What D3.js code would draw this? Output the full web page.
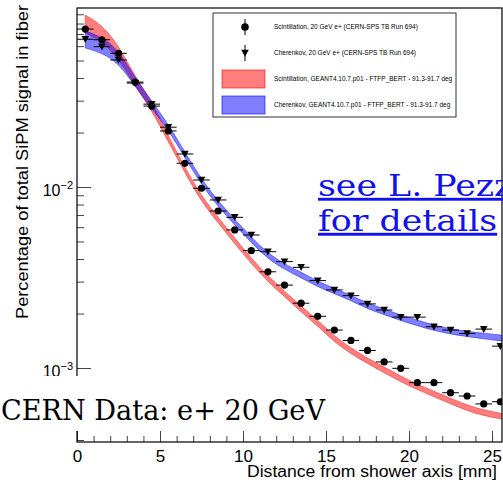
<!DOCTYPE html>
<html>
<head>
<meta charset="utf-8">
<script src="https://cdn.jsdelivr.net/npm/d3@7"></script>
<style>
  body { margin: 0; background: #fff; }
  svg { display: block; font-family: "Liberation Sans", Arial, sans-serif; }
</style>
</head>
<body>
<div id="chart"></div>
<script>
// Lateral profile, bin centres in mm
var binCentres = [0.5, 1.5, 2.5, 3.5, 4.5, 5.5, 6.5, 7.5, 8.5, 9.5, 10.5, 11.5, 12.5,
  13.5, 14.5, 15.5, 16.5, 17.5, 18.5, 19.5, 20.5, 21.5, 22.5, 23.5, 24.5, 25.5];

// CERN-SPS test beam data
var scintData = [0.0746, 0.0651, 0.0548, 0.0380, 0.0280, 0.0204, 0.01352, 0.00984, 0.00737,
  0.00579, 0.00445, 0.00340, 0.00287, 0.00228, 0.00193, 0.00162, 0.00142, 0.00125, 0.00108,
  0.000996, 0.000830, 0.000830, 0.000730, 0.000700, 0.000633, 0.000651];
var cherData = [0.0655, 0.0596, 0.0503, 0.0375, 0.0287, 0.0214, 0.01522, 0.01093, 0.00848,
  0.00680, 0.00543, 0.00439, 0.00387, 0.00360, 0.00304, 0.00270, 0.00251, 0.00226, 0.00209,
  0.00191, 0.00191, 0.00169, 0.00162, 0.00155, 0.00164, 0.00132];

// GEANT4 simulation bands
var simBins = [0.5, 1.5, 2.5, 3.5, 4.5, 5.5, 6.5, 7.5, 8.5, 9.5, 10.5, 11.5, 12.5,
  13.5, 14.5, 15.5, 16.5, 17.5, 18.5, 19.5, 20.5, 21.5, 22.5, 23.5, 24.5, 25.5, 26.5];
var scintSimHigh = [0.0892, 0.0785, 0.0609, 0.0405, 0.0299, 0.01909, 0.01285, 0.00889, 0.00681,
  0.00521, 0.00404, 0.00322, 0.00266, 0.00219, 0.00184, 0.00150, 0.00129, 0.00113, 0.001014,
  0.000901, 0.000813, 0.000744, 0.000681, 0.000623, 0.000585, 0.000562, 0.000541];
var scintSimLow = [0.0709, 0.0641, 0.0516, 0.0361, 0.0266, 0.01778, 0.01199, 0.00829, 0.00635,
  0.00486, 0.00377, 0.00300, 0.00248, 0.00204, 0.00171, 0.00139, 0.00120, 0.001057, 0.000942,
  0.000839, 0.000758, 0.000694, 0.000635, 0.000580, 0.000545, 0.000524, 0.000505];
var cherSimHigh = [0.0728, 0.0674, 0.0571, 0.0400, 0.0299, 0.02224, 0.01555, 0.01103, 0.00835,
  0.00663, 0.00528, 0.00431, 0.00374, 0.00339, 0.00301, 0.00276, 0.00252, 0.00228, 0.00212,
  0.00196, 0.00184, 0.00172, 0.00165, 0.00159, 0.00156, 0.00152, 0.00149];
var cherSimLow = [0.0586, 0.0550, 0.0484, 0.0361, 0.0270, 0.02073, 0.01451, 0.01030, 0.00778,
  0.00619, 0.00492, 0.00401, 0.00350, 0.00315, 0.00281, 0.00257, 0.00236, 0.00212, 0.00197,
  0.00183, 0.00171, 0.00161, 0.00154, 0.00149, 0.00145, 0.00141, 0.00138];

var xTicks = [0, 5, 10, 15, 20, 25];
var yTicks = [1e-3, 1e-2];
var yTickExponents = ["\u22123", "\u22122"];

var legendLabels = [
  "Scintillation, 20 GeV e+ (CERN-SPS TB Run 694)",
  "Cherenkov, 20 GeV e+ (CERN-SPS TB Run 694)",
  "Scintillation, GEANT4.10.7.p01 - FTFP_BERT - 91.3-91.7 deg",
  "Cherenkov, GEANT4.10.7.p01 - FTFP_BERT - 91.3-91.7 deg"
];

var w = 503;
var h = 480;
// plot frame (avoid the name "top", it is window.top)
var padL = 77, padR = 502, padT = 8, padB = 442;

var svg = d3.select("#chart").append("svg").attr("width", w).attr("height", h);

var x = d3.scaleLinear().domain([0, 25.6]).range([padL, padR]);
var y = d3.scaleLog().domain([3.9e-4, 0.0975]).range([padB, padT]);

svg.append("clipPath").attr("id", "plotClip")
  .append("rect").attr("x", padL).attr("y", padT)
  .attr("width", padR - padL).attr("height", padB - padT);

var plot = svg.append("g").attr("clip-path", "url(#plotClip)");

// simulation bands
function band(lowArr, highArr) {
  return d3.area()
    .x(function (d, i) { return x(simBins[i]); })
    .y0(function (d, i) { return y(lowArr[i]); })
    .y1(function (d, i) { return y(highArr[i]); })
    .curve(d3.curveBasis)(simBins);
}

plot.append("path")
  .attr("d", band(scintSimLow, scintSimHigh))
  .attr("fill", "rgba(255,0,0,0.5)")
  .attr("stroke", "rgba(255,0,0,0.45)")
  .attr("stroke-width", 1);

plot.append("path")
  .attr("d", band(cherSimLow, cherSimHigh))
  .attr("fill", "rgba(0,0,255,0.5)")
  .attr("stroke", "rgba(0,0,255,0.45)")
  .attr("stroke-width", 1);

// data points with horizontal bin-width error bars
function drawPoints(values, shape) {
  var g = plot.append("g");
  g.selectAll("line")
    .data(values)
    .enter()
    .append("line")
    .attr("x1", function (d, i) { return x(binCentres[i] - 0.5); })
    .attr("x2", function (d, i) { return x(binCentres[i] + 0.5); })
    .attr("y1", function (d) { return y(d); })
    .attr("y2", function (d) { return y(d); })
    .attr("stroke", "#000")
    .attr("stroke-width", 1);

  if (shape === "circle") {
    g.selectAll("circle")
      .data(values)
      .enter()
      .append("circle")
      .attr("cx", function (d, i) { return x(binCentres[i]); })
      .attr("cy", function (d) { return y(d); })
      .attr("r", 3.6)
      .attr("fill", "#000");
  } else {
    g.selectAll("path")
      .data(values)
      .enter()
      .append("path")
      .attr("transform", function (d, i) {
        return "translate(" + x(binCentres[i]) + "," + y(d) + ")";
      })
      .attr("d", "M-3.8,-3.2 L3.8,-3.2 L0,3.8 Z")
      .attr("fill", "#000");
  }
}

drawPoints(scintData, "circle");
drawPoints(cherData, "triangle");

// axes with inward ticks
svg.append("g")
  .attr("transform", "translate(0," + padB + ")")
  .call(d3.axisBottom(x).ticks(25).tickSize(-6).tickFormat(""))
  .call(function (g) { g.select(".domain").remove(); });

var xAxis = svg.append("g")
  .attr("transform", "translate(0," + padB + ")")
  .call(d3.axisBottom(x).tickValues(xTicks).tickSize(-11));
xAxis.select(".domain").remove();
xAxis.selectAll("text")
  .attr("font-family", "Liberation Sans, Arial, sans-serif")
  .attr("font-size", 17)
  .attr("fill", "#000")
  .attr("y", 20)
  .attr("dy", null);

svg.append("g")
  .attr("transform", "translate(" + padL + ",0)")
  .call(d3.axisLeft(y).tickValues(y.ticks()).tickSize(-7).tickFormat(""))
  .call(function (g) { g.select(".domain").remove(); });

var yAxis = svg.append("g")
  .attr("transform", "translate(" + padL + ",0)")
  .call(d3.axisLeft(y).tickValues(yTicks).tickSize(-14).tickFormat(""));
yAxis.select(".domain").remove();
yAxis.selectAll(".tick")
  .append("text")
  .attr("x", -4)
  .attr("y", 9)
  .attr("text-anchor", "end")
  .attr("fill", "#000")
  .attr("font-size", 16)
  .each(function (d, i) {
    var t = d3.select(this);
    t.append("tspan").text("10");
    t.append("tspan").attr("font-size", 11).attr("dy", -7).text(yTickExponents[i]);
  });

svg.selectAll(".tick line").attr("stroke", "#444");

// frame
svg.append("rect")
  .attr("x", padL).attr("y", padT)
  .attr("width", padR - padL).attr("height", padB - padT)
  .attr("fill", "none")
  .attr("stroke", "#000")
  .attr("stroke-width", 1.2);

// axis titles
svg.append("text")
  .attr("x", 497)
  .attr("y", 477)
  .attr("text-anchor", "end")
  .attr("font-size", 16)
  .attr("fill", "#000")
  .attr("textLength", 250)
  .attr("lengthAdjust", "spacingAndGlyphs")
  .text("Distance from shower axis [mm]");

svg.append("text")
  .attr("transform", "translate(28,5) rotate(-90)")
  .attr("text-anchor", "end")
  .attr("font-size", 16)
  .attr("fill", "#000")
  .attr("textLength", 314)
  .attr("lengthAdjust", "spacingAndGlyphs")
  .text("Percentage of total SiPM signal in fiber");

// legend
var legend = svg.append("g");
legend.append("rect")
  .attr("x", 213).attr("y", 13)
  .attr("width", 243).attr("height", 104)
  .attr("fill", "#fff")
  .attr("stroke", "#333")
  .attr("stroke-width", 1);

var legendY = [27, 53, 79, 105];
legend.selectAll("text")
  .data(legendLabels)
  .enter()
  .append("text")
  .attr("x", 274)
  .attr("y", function (d, i) { return legendY[i]; })
  .attr("dy", "0.35em")
  .attr("font-size", 6.5)
  .attr("fill", "#000")
  .text(function (d) { return d; });

legend.append("line")
  .attr("x1", 245).attr("x2", 245).attr("y1", 19).attr("y2", 35)
  .attr("stroke", "#000");
legend.append("circle")
  .attr("cx", 245).attr("cy", legendY[0]).attr("r", 3.8).attr("fill", "#000");
legend.append("line")
  .attr("x1", 245).attr("x2", 245).attr("y1", 45).attr("y2", 61)
  .attr("stroke", "#000");
legend.append("path")
  .attr("transform", "translate(245," + legendY[1] + ")")
  .attr("d", "M-3.8,-3.2 L3.8,-3.2 L0,3.8 Z")
  .attr("fill", "#000");
legend.append("rect")
  .attr("x", 222).attr("y", 70).attr("width", 43).attr("height", 18)
  .attr("fill", "rgba(255,0,0,0.5)").attr("stroke", "rgba(255,0,0,0.6)");
legend.append("rect")
  .attr("x", 222).attr("y", 96).attr("width", 43).attr("height", 18)
  .attr("fill", "rgba(0,0,255,0.5)").attr("stroke", "rgba(0,0,255,0.6)");

// slide overlays
svg.append("rect")
  .attr("x", 0).attr("y", 376)
  .attr("width", 332).attr("height", 55)
  .attr("fill", "#fff");

svg.append("text")
  .attr("x", 1)
  .attr("y", 420)
  .attr("font-family", "DejaVu Serif, serif")
  .attr("font-size", 28)
  .attr("fill", "#000")
  .attr("textLength", 324)
  .attr("lengthAdjust", "spacingAndGlyphs")
  .text("CERN Data: e+ 20 GeV");

var link = svg.append("g")
  .attr("transform", "translate(318,0) scale(1.2,1)")
  .attr("font-family", "DejaVu Serif, serif")
  .attr("font-size", 29)
  .attr("fill", "#1010f0")
  .attr("text-decoration", "underline");
link.append("text").attr("x", 0).attr("y", 196).text("see L. Pezzotti");
link.append("text").attr("x", 0).attr("y", 231).text("for details");
</script>
</body>
</html>
